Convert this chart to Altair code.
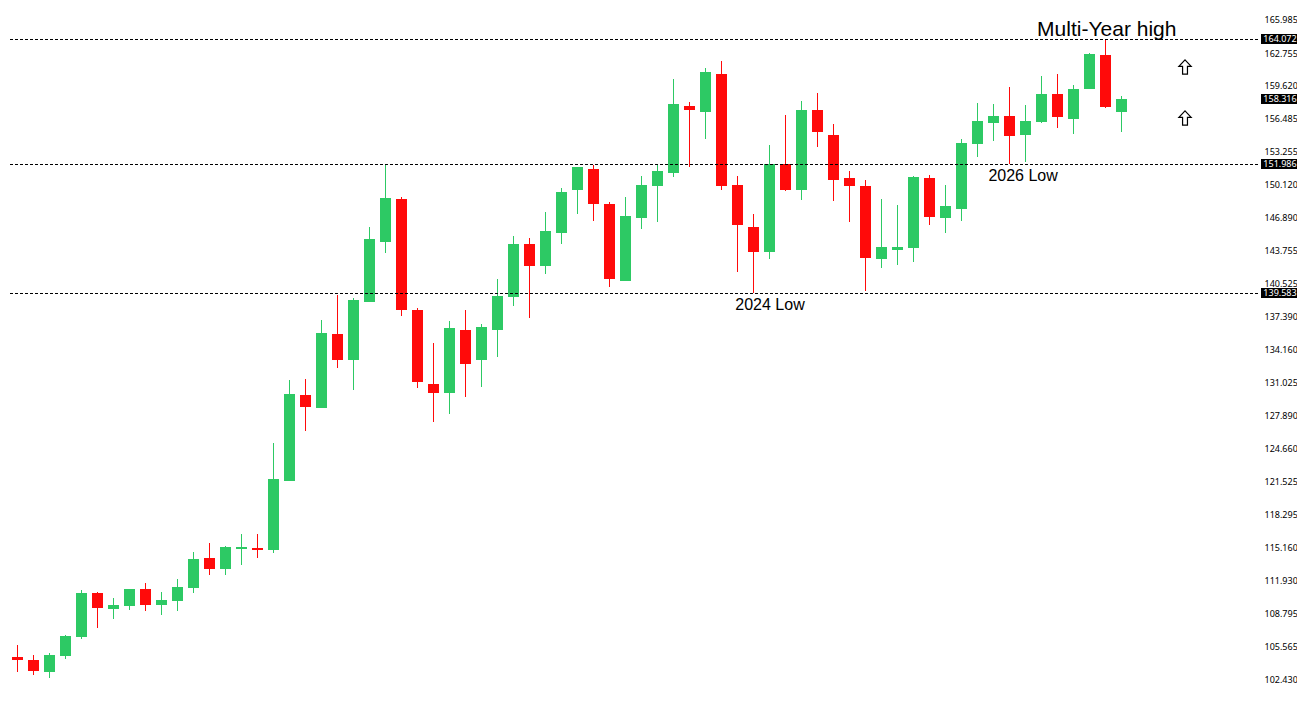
import pandas as pd
import altair as alt

opens = [105.41, 104.55, 104.26, 103.10, 104.64, 106.47, 110.71, 109.17, 109.46, 111.10,
         109.56, 109.94, 111.19, 114.08, 113.02, 114.95, 115.05, 114.85, 121.50, 129.78,
         128.53, 135.65, 133.15, 138.73, 144.51, 148.65, 137.96, 130.84, 129.97, 136.04,
         133.15, 136.04, 139.21, 144.32, 142.20, 145.38, 149.52, 151.54, 148.17, 140.76,
         146.82, 149.90, 151.16, 157.61, 157.03, 160.69, 150.00, 145.96, 143.55, 152.02,
         149.52, 157.22, 154.81, 150.67, 149.90, 142.87, 143.74, 143.93, 150.67, 146.82,
         147.69, 153.95, 155.97, 156.64, 154.81, 156.07, 158.76, 156.36, 159.24, 162.52,
         157.03]
highs = [106.09, 105.70, 104.74, 104.93, 106.67, 111.00, 110.81, 110.23, 111.10, 111.67,
         110.81, 112.06, 114.66, 115.53, 115.24, 116.39, 116.39, 125.16, 131.22, 131.32,
         137.00, 139.41, 139.12, 145.96, 151.99, 148.84, 138.16, 134.79, 136.90, 137.96,
         136.62, 140.95, 145.09, 144.90, 147.40, 149.71, 151.73, 151.93, 148.36, 148.84,
         150.87, 151.93, 160.21, 157.99, 161.27, 161.94, 150.87, 147.21, 153.85, 156.74,
         158.09, 158.86, 155.87, 151.35, 150.48, 148.65, 148.07, 150.87, 150.96, 150.00,
         154.43, 157.90, 157.80, 159.44, 157.70, 160.50, 160.69, 159.63, 162.71, 164.07,
         158.57]
lows = [103.97, 103.10, 102.81, 102.53, 104.36, 106.28, 107.34, 108.21, 109.07, 108.98,
        108.59, 108.98, 110.71, 112.45, 112.45, 113.41, 114.08, 114.56, 121.50, 126.31,
        128.53, 132.38, 130.26, 138.73, 143.45, 137.39, 130.45, 127.18, 127.95, 129.59,
        130.55, 133.44, 138.35, 137.19, 141.43, 144.32, 147.21, 146.53, 140.18, 140.76,
        145.76, 146.44, 150.77, 151.73, 154.43, 149.52, 141.62, 139.60, 142.87, 149.42,
        148.56, 153.66, 148.46, 146.44, 139.79, 142.01, 142.30, 142.59, 146.15, 145.38,
        146.53, 152.70, 154.24, 152.02, 152.21, 155.97, 155.49, 154.91, 159.24, 157.41,
        155.10]
closes = [104.55, 104.26, 103.20, 104.74, 106.57, 110.71, 109.27, 109.56, 111.10, 109.56,
          110.04, 111.29, 113.99, 113.02, 115.14, 115.14, 114.85, 121.69, 129.87, 128.62,
          135.75, 133.15, 138.93, 144.80, 148.75, 137.96, 131.03, 129.97, 136.23, 132.76,
          136.33, 139.31, 144.32, 142.20, 145.57, 149.33, 151.73, 148.17, 140.95, 147.02,
          150.00, 151.35, 157.80, 157.22, 160.88, 149.90, 146.15, 143.55, 152.02, 149.52,
          157.22, 155.10, 150.48, 149.90, 142.97, 144.03, 144.03, 150.77, 146.92, 147.98,
          154.04, 156.16, 156.64, 154.72, 156.16, 158.76, 156.55, 159.24, 162.61, 157.51,
          158.28]

tick_values = [165.985, 162.755, 159.620, 156.485, 153.255, 150.120, 146.890, 143.755,
               140.525, 137.390, 134.160, 131.025, 127.890, 124.660, 121.525, 118.295,
               115.160, 111.930, 108.795, 105.565, 102.430]

level_values = [164.072, 151.986, 139.583]
tag_values = [164.072, 158.316, 151.986, 139.583]

note_texts = ["Multi-Year high", "2024 Low", "2026 Low"]
note_x = [69.08, 48.03, 63.85]
note_y = [164.92, 138.44, 150.86]

arrow_x = [73.97, 73.97]
arrow_y = [161.35, 156.42]

GREEN = "#2dc964"
RED = "#ff0a0a"

df = pd.DataFrame({"open": opens, "high": highs, "low": lows, "close": closes})
df["bar"] = range(len(df))
df["dir"] = ["up" if c >= o else "down" for o, c in zip(opens, closes)]

x_scale = alt.Scale(domain=[0.40625, 78.53125], nice=False, zero=False, padding=0)
y_scale = alt.Scale(domain=[100.600, 167.044], nice=False, zero=False, padding=0, round=True)
dir_color = alt.Color(
    "dir:N",
    scale=alt.Scale(domain=["up", "down"], range=[GREEN, RED]),
    legend=None,
)
y_axis = alt.Axis(
    orient="right",
    values=tick_values,
    format=".3f",
    title=None,
    grid=False,
    domain=False,
    ticks=False,
    labelPadding=6,
    labelOffset=0.4,
    labelOverlap=False,
    labelFlush=False,
    labelFont="Noto Sans",
    labelFontSize=9,
    labelColor="#000000",
)

wicks = (
    alt.Chart(df)
    .mark_rule(strokeWidth=1)
    .encode(
        alt.X("bar:Q", scale=x_scale, axis=None),
        alt.Y("low:Q", scale=y_scale, axis=y_axis),
        alt.Y2("high:Q"),
        dir_color,
    )
)

bodies = (
    alt.Chart(df)
    .mark_bar(size=11)
    .encode(
        alt.X("bar:Q", scale=x_scale, axis=None),
        alt.Y("open:Q", scale=y_scale, axis=y_axis),
        alt.Y2("close:Q"),
        dir_color,
    )
)

levels = (
    alt.Chart(pd.DataFrame({"price": level_values}))
    .mark_rule(color="#000000", strokeWidth=1, strokeDash=[3, 2], yOffset=0.5)
    .encode(alt.Y("price:Q", scale=y_scale, axis=y_axis))
)

tags = alt.Chart(pd.DataFrame({"price": tag_values}))
tag_boxes = tags.mark_rect(color="#000000", width=36, height=10).encode(
    x=alt.value(1271),
    y=alt.Y("price:Q", scale=y_scale, axis=y_axis),
)
tag_texts = tags.mark_text(
    color="#ffffff", font="Noto Sans", fontSize=9, align="center", baseline="middle"
).encode(
    x=alt.value(1272),
    y=alt.Y("price:Q", scale=y_scale, axis=y_axis),
    text=alt.Text("price:Q", format=".3f"),
)

notes_df = pd.DataFrame({"label": note_texts, "bar": note_x, "price": note_y})
notes = (
    alt.Chart(notes_df)
    .mark_text(font="Liberation Sans", align="center", baseline="middle", color="#000000")
    .encode(
        alt.X("bar:Q", scale=x_scale, axis=None),
        alt.Y("price:Q", scale=y_scale, axis=y_axis),
        alt.Text("label:N"),
        alt.Size(
            "label:N",
            scale=alt.Scale(type="ordinal", domain=note_texts, range=[21, 16, 16]),
            legend=None,
        ),
    )
)

arrows = (
    alt.Chart(pd.DataFrame({"bar": arrow_x, "price": arrow_y}))
    .mark_point(
        shape="M0,-1.15L1,-0.1L0.4,-0.1L0.4,1.15L-0.4,1.15L-0.4,-0.1L-1,-0.1Z",
        size=150,
        filled=False,
        fill="#ffffff",
        stroke="#000000",
        strokeWidth=1.2,
        opacity=1,
    )
    .encode(
        alt.X("bar:Q", scale=x_scale, axis=None),
        alt.Y("price:Q", scale=y_scale, axis=y_axis),
    )
)

chart = (
    alt.layer(wicks, bodies, levels, tag_boxes, tag_texts, notes, arrows)
    .properties(
        width=1250,
        height=690,
        padding={"left": 0, "top": 0, "right": 39, "bottom": 0},
        autosize=alt.AutoSizeParams(type="none"),
        background="#ffffff",
    )
    .configure_view(stroke=None)
)

chart.save("out.html", embed_options={"renderer": "svg", "actions": False})
